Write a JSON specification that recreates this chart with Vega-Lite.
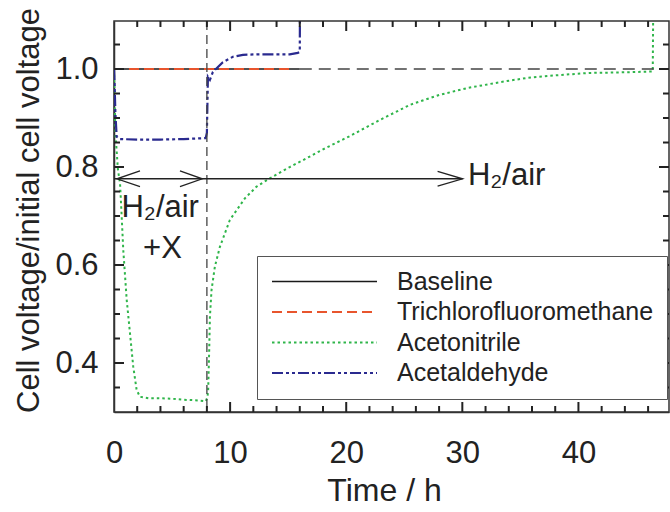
{
  "$schema": "https://vega.github.io/schema/vega-lite/v6.json",
  "width": 555,
  "height": 391,
  "autosize": {"type": "none"},
  "padding": {"left": 114, "top": 21, "right": 1, "bottom": 100},
  "background": "white",
  "config": {
    "font": "Liberation Sans",
    "view": {"stroke": "#333", "strokeWidth": 1.5},
    "axis": {"grid": false, "domainColor": "#333", "domainWidth": 1.5, "labelFont": "Liberation Sans", "labelColor": "#222", "titleFont": "Liberation Sans", "titleColor": "#222", "titleFontWeight": "normal", "labelFlush": false, "labelOverlap": false}
  },
  "datasets": {
    "curves": [
      {"series": "Baseline", "o": 1, "t": 0, "v": 1.0},
      {"series": "Baseline", "o": 2, "t": 4, "v": 1.0},
      {"series": "Baseline", "o": 3, "t": 8, "v": 1.0},
      {"series": "Baseline", "o": 4, "t": 12, "v": 1.0},
      {"series": "Baseline", "o": 5, "t": 16, "v": 1.0},
      {"series": "Trichlorofluoromethane", "o": 1, "t": 0, "v": 1.0},
      {"series": "Trichlorofluoromethane", "o": 2, "t": 4, "v": 1.0},
      {"series": "Trichlorofluoromethane", "o": 3, "t": 8, "v": 1.0},
      {"series": "Trichlorofluoromethane", "o": 4, "t": 12, "v": 1.0},
      {"series": "Trichlorofluoromethane", "o": 5, "t": 15.3, "v": 1.0},
      {"series": "Acetonitrile", "o": 1, "t": 0, "v": 1.0},
      {"series": "Acetonitrile", "o": 2, "t": 0.05, "v": 0.93},
      {"series": "Acetonitrile", "o": 3, "t": 0.15, "v": 0.86},
      {"series": "Acetonitrile", "o": 4, "t": 0.34, "v": 0.794},
      {"series": "Acetonitrile", "o": 5, "t": 0.52, "v": 0.767},
      {"series": "Acetonitrile", "o": 6, "t": 0.66, "v": 0.7},
      {"series": "Acetonitrile", "o": 7, "t": 0.8, "v": 0.63},
      {"series": "Acetonitrile", "o": 8, "t": 1.09, "v": 0.53},
      {"series": "Acetonitrile", "o": 9, "t": 1.38, "v": 0.46},
      {"series": "Acetonitrile", "o": 10, "t": 1.66, "v": 0.392},
      {"series": "Acetonitrile", "o": 11, "t": 1.95, "v": 0.345},
      {"series": "Acetonitrile", "o": 12, "t": 2.24, "v": 0.331},
      {"series": "Acetonitrile", "o": 13, "t": 3.0, "v": 0.328},
      {"series": "Acetonitrile", "o": 14, "t": 4.0, "v": 0.328},
      {"series": "Acetonitrile", "o": 15, "t": 5.0, "v": 0.327},
      {"series": "Acetonitrile", "o": 16, "t": 6.0, "v": 0.325},
      {"series": "Acetonitrile", "o": 17, "t": 7.0, "v": 0.324},
      {"series": "Acetonitrile", "o": 18, "t": 7.9, "v": 0.322},
      {"series": "Acetonitrile", "o": 19, "t": 8.05, "v": 0.33},
      {"series": "Acetonitrile", "o": 20, "t": 8.11, "v": 0.345},
      {"series": "Acetonitrile", "o": 21, "t": 8.2, "v": 0.427},
      {"series": "Acetonitrile", "o": 22, "t": 8.26, "v": 0.494},
      {"series": "Acetonitrile", "o": 23, "t": 8.4, "v": 0.549},
      {"series": "Acetonitrile", "o": 24, "t": 8.69, "v": 0.597},
      {"series": "Acetonitrile", "o": 25, "t": 9.12, "v": 0.637},
      {"series": "Acetonitrile", "o": 26, "t": 9.98, "v": 0.692},
      {"series": "Acetonitrile", "o": 27, "t": 11.27, "v": 0.736},
      {"series": "Acetonitrile", "o": 28, "t": 12.28, "v": 0.76},
      {"series": "Acetonitrile", "o": 29, "t": 13.42, "v": 0.777},
      {"series": "Acetonitrile", "o": 30, "t": 15.14, "v": 0.8},
      {"series": "Acetonitrile", "o": 31, "t": 16.28, "v": 0.814},
      {"series": "Acetonitrile", "o": 32, "t": 18.0, "v": 0.836},
      {"series": "Acetonitrile", "o": 33, "t": 20.3, "v": 0.863},
      {"series": "Acetonitrile", "o": 34, "t": 22.9, "v": 0.896},
      {"series": "Acetonitrile", "o": 35, "t": 25.5, "v": 0.927},
      {"series": "Acetonitrile", "o": 36, "t": 28.0, "v": 0.947},
      {"series": "Acetonitrile", "o": 37, "t": 30.4, "v": 0.961},
      {"series": "Acetonitrile", "o": 38, "t": 33.2, "v": 0.973},
      {"series": "Acetonitrile", "o": 39, "t": 35.6, "v": 0.982},
      {"series": "Acetonitrile", "o": 40, "t": 38.0, "v": 0.987},
      {"series": "Acetonitrile", "o": 41, "t": 40.9, "v": 0.992},
      {"series": "Acetonitrile", "o": 42, "t": 43.5, "v": 0.993},
      {"series": "Acetonitrile", "o": 43, "t": 46.4, "v": 0.995},
      {"series": "Acetonitrile", "o": 44, "t": 46.45, "v": 1.15},
      {"series": "Acetaldehyde", "o": 1, "t": 0, "v": 1.0},
      {"series": "Acetaldehyde", "o": 2, "t": 0.05, "v": 0.97},
      {"series": "Acetaldehyde", "o": 3, "t": 0.12, "v": 0.91},
      {"series": "Acetaldehyde", "o": 4, "t": 0.23, "v": 0.862},
      {"series": "Acetaldehyde", "o": 5, "t": 0.5, "v": 0.857},
      {"series": "Acetaldehyde", "o": 6, "t": 2, "v": 0.856},
      {"series": "Acetaldehyde", "o": 7, "t": 4, "v": 0.856},
      {"series": "Acetaldehyde", "o": 8, "t": 6, "v": 0.857},
      {"series": "Acetaldehyde", "o": 9, "t": 7.9, "v": 0.859},
      {"series": "Acetaldehyde", "o": 10, "t": 8.0, "v": 0.87},
      {"series": "Acetaldehyde", "o": 11, "t": 8.09, "v": 0.984},
      {"series": "Acetaldehyde", "o": 12, "t": 8.26, "v": 0.978},
      {"series": "Acetaldehyde", "o": 13, "t": 8.52, "v": 0.994},
      {"series": "Acetaldehyde", "o": 14, "t": 9.38, "v": 1.014},
      {"series": "Acetaldehyde", "o": 15, "t": 10.24, "v": 1.025},
      {"series": "Acetaldehyde", "o": 16, "t": 11.1, "v": 1.029},
      {"series": "Acetaldehyde", "o": 17, "t": 12.3, "v": 1.03},
      {"series": "Acetaldehyde", "o": 18, "t": 15.14, "v": 1.03},
      {"series": "Acetaldehyde", "o": 19, "t": 15.83, "v": 1.033},
      {"series": "Acetaldehyde", "o": 20, "t": 16.0, "v": 1.035},
      {"series": "Acetaldehyde", "o": 21, "t": 16.02, "v": 1.15}
    ],
    "chevrons": [
      {"c": "a", "o": 1, "t": 2.24, "v": 0.792},
      {"c": "a", "o": 2, "t": 0.25, "v": 0.776},
      {"c": "a", "o": 3, "t": 2.24, "v": 0.760},
      {"c": "b", "o": 1, "t": 5.68, "v": 0.792},
      {"c": "b", "o": 2, "t": 7.6, "v": 0.776},
      {"c": "b", "o": 3, "t": 5.68, "v": 0.760},
      {"c": "c", "o": 1, "t": 27.87, "v": 0.791},
      {"c": "c", "o": 2, "t": 30.02, "v": 0.776},
      {"c": "c", "o": 3, "t": 27.87, "v": 0.761}
    ],
    "xminor": [{"t": 2}, {"t": 4}, {"t": 6}, {"t": 8}, {"t": 12}, {"t": 14}, {"t": 16}, {"t": 18}, {"t": 22}, {"t": 24}, {"t": 26}, {"t": 28}, {"t": 32}, {"t": 34}, {"t": 36}, {"t": 38}, {"t": 42}, {"t": 44}, {"t": 46}],
    "xmajor": [{"t": 10}, {"t": 20}, {"t": 30}, {"t": 40}],
    "yminor": [{"v": 0.35}, {"v": 0.45}, {"v": 0.5}, {"v": 0.55}, {"v": 0.65}, {"v": 0.7}, {"v": 0.75}, {"v": 0.85}, {"v": 0.9}, {"v": 0.95}, {"v": 1.05}],
    "ymajor": [{"v": 0.4}, {"v": 0.6}, {"v": 0.8}, {"v": 1.0}]
  },
  "layer": [
    {
      "data": {"name": "curves"},
      "mark": {"type": "line", "clip": true},
      "encoding": {
        "x": {"field": "t", "type": "quantitative", "scale": {"domain": [0, 47.8], "nice": false, "zero": false},
          "axis": {"orient": "bottom", "values": [0, 10, 20, 30, 40], "labelFontSize": 31, "labelPadding": 26, "ticks": false, "tickSize": 0,
            "title": "Time / h", "titleFontSize": 32, "titleX": 270, "titleY": 88, "titleBaseline": "alphabetic"}},
        "y": {"field": "v", "type": "quantitative", "scale": {"domain": [0.3, 1.098], "nice": false, "zero": false},
          "axis": {"orient": "left", "values": [0.4, 0.6, 0.8, 1.0], "format": ".1f", "labelFontSize": 31, "labelPadding": 16, "ticks": false, "tickSize": 0,
            "title": "Cell voltage/initial cell voltage", "titleFontSize": 31, "titleX": -76, "titleY": 189, "titleAngle": -90, "titleBaseline": "alphabetic", "titleAlign": "center"}},
        "order": {"field": "o", "type": "quantitative"},
        "color": {"field": "series", "type": "nominal",
          "scale": {"domain": ["Baseline", "Trichlorofluoromethane", "Acetonitrile", "Acetaldehyde"], "range": ["#1a1a1a", "#e8552d", "#2fb54a", "#2a2a8f"]},
          "legend": {"orient": "none", "legendX": 143, "legendY": 235, "title": null, "symbolType": "M-1,0H9", "symbolSize": 441, "labelFontSize": 25, "labelFont": "Liberation Sans", "labelColor": "#222", "labelOffset": 102, "labelLimit": 400, "rowPadding": 4.5, "padding": 13, "strokeColor": "#555", "fillColor": "white"}},
        "strokeDash": {"field": "series", "type": "nominal",
          "scale": {"domain": ["Baseline", "Trichlorofluoromethane", "Acetonitrile", "Acetaldehyde"], "range": [[1, 0], [10, 5], [2.5, 3], [11, 3, 3, 3, 3, 3]]}},
        "strokeWidth": {"field": "series", "type": "nominal",
          "scale": {"domain": ["Baseline", "Trichlorofluoromethane", "Acetonitrile", "Acetaldehyde"], "range": [1.6, 2.2, 3, 3]}}
      }
    },
    {
      "data": {"values": [{"t0": 16, "t1": 47.8, "v": 1.0}]},
      "mark": {"type": "rule", "color": "#444", "strokeWidth": 1.3, "strokeDash": [12, 7]},
      "encoding": {"x": {"field": "t0", "type": "quantitative"}, "x2": {"field": "t1"}, "y": {"field": "v", "type": "quantitative"}}
    },
    {
      "data": {"values": [{"t": 8}]},
      "mark": {"type": "rule", "color": "#444", "strokeWidth": 1.3, "strokeDash": [9, 5]},
      "encoding": {"x": {"field": "t", "type": "quantitative"}}
    },
    {
      "data": {"values": [{"t0": 0, "t1": 30.02, "v": 0.776}]},
      "mark": {"type": "rule", "color": "#222", "strokeWidth": 1.3},
      "encoding": {"x": {"field": "t0", "type": "quantitative"}, "x2": {"field": "t1"}, "y": {"field": "v", "type": "quantitative"}}
    },
    {
      "data": {"name": "chevrons"},
      "mark": {"type": "line", "color": "#222", "strokeWidth": 1.3},
      "encoding": {
        "x": {"field": "t", "type": "quantitative"},
        "y": {"field": "v", "type": "quantitative"},
        "detail": {"field": "c"},
        "order": {"field": "o", "type": "quantitative"}
      }
    },
    {"data": {"name": "xminor"}, "mark": {"type": "rule", "color": "#222", "strokeWidth": 2},
      "encoding": {"x": {"field": "t", "type": "quantitative"}, "y": {"datum": 0.3}, "y2": {"datum": 0.3122}}},
    {"data": {"name": "xmajor"}, "mark": {"type": "rule", "color": "#222", "strokeWidth": 2},
      "encoding": {"x": {"field": "t", "type": "quantitative"}, "y": {"datum": 0.3}, "y2": {"datum": 0.3204}}},
    {"data": {"name": "xminor"}, "mark": {"type": "rule", "color": "#222", "strokeWidth": 2},
      "encoding": {"x": {"field": "t", "type": "quantitative"}, "y": {"datum": 1.098}, "y2": {"datum": 1.0858}}},
    {"data": {"name": "xmajor"}, "mark": {"type": "rule", "color": "#222", "strokeWidth": 2},
      "encoding": {"x": {"field": "t", "type": "quantitative"}, "y": {"datum": 1.098}, "y2": {"datum": 1.0776}}},
    {"data": {"name": "yminor"}, "mark": {"type": "rule", "color": "#222", "strokeWidth": 2},
      "encoding": {"y": {"field": "v", "type": "quantitative"}, "x": {"datum": 0}, "x2": {"datum": 0.517}}},
    {"data": {"name": "ymajor"}, "mark": {"type": "rule", "color": "#222", "strokeWidth": 2},
      "encoding": {"y": {"field": "v", "type": "quantitative"}, "x": {"datum": 0}, "x2": {"datum": 0.861}}},
    {"data": {"name": "yminor"}, "mark": {"type": "rule", "color": "#222", "strokeWidth": 2},
      "encoding": {"y": {"field": "v", "type": "quantitative"}, "x": {"datum": 47.8}, "x2": {"datum": 47.283}}},
    {"data": {"name": "ymajor"}, "mark": {"type": "rule", "color": "#222", "strokeWidth": 2},
      "encoding": {"y": {"field": "v", "type": "quantitative"}, "x": {"datum": 47.8}, "x2": {"datum": 46.939}}},
    {
      "data": {"values": [{"txt": "H₂/air", "t": 3.98, "v": 0.698}, {"txt": "+X", "t": 4.17, "v": 0.614}]},
      "mark": {"type": "text", "fontSize": 31, "font": "Liberation Sans", "color": "#222", "baseline": "alphabetic", "align": "center"},
      "encoding": {"x": {"field": "t", "type": "quantitative"}, "y": {"field": "v", "type": "quantitative"}, "text": {"field": "txt"}}
    },
    {
      "data": {"values": [{"txt": "H₂/air", "t": 30.48, "v": 0.763}]},
      "mark": {"type": "text", "fontSize": 31, "font": "Liberation Sans", "color": "#222", "baseline": "alphabetic", "align": "left"},
      "encoding": {"x": {"field": "t", "type": "quantitative"}, "y": {"field": "v", "type": "quantitative"}, "text": {"field": "txt"}}
    }
  ]
}
